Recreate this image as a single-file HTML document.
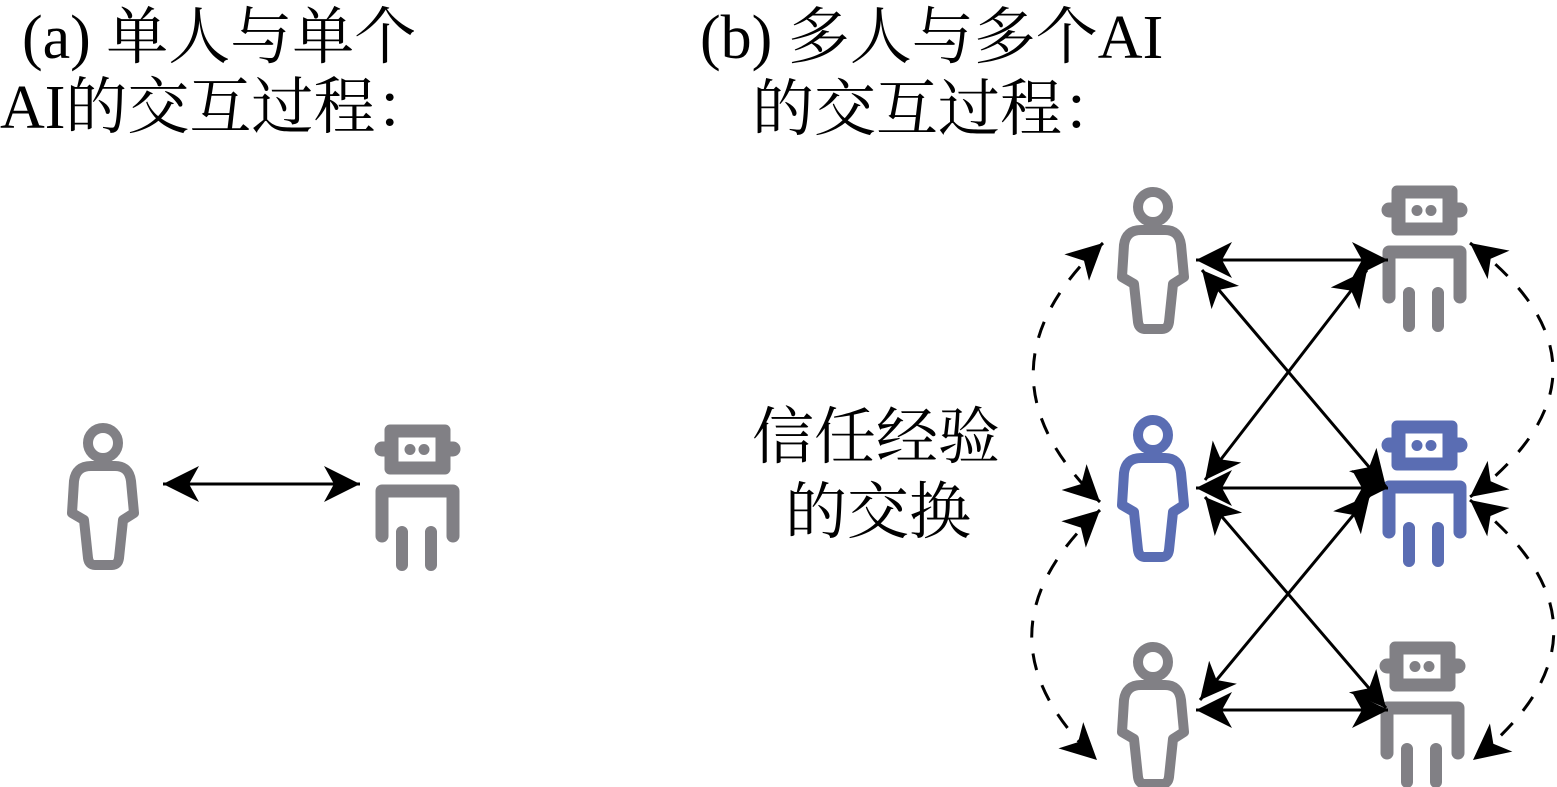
<!DOCTYPE html>
<html><head><meta charset="utf-8"><style>
html,body{margin:0;padding:0;background:#fff;}
svg{display:block;}
text{font-family:"Liberation Serif","Noto Serif CJK SC",serif;font-size:62px;fill:#000;}
</style></head><body>
<svg width="1557" height="787" viewBox="0 0 1557 787" xmlns="http://www.w3.org/2000/svg">
<defs>
<marker id="ah" markerUnits="userSpaceOnUse" markerWidth="42" markerHeight="42" viewBox="-36 -21 42 42" refX="0" refY="0" orient="auto-start-reverse">
<path d="M0,0 L-36,-18 L-26,0 L-36,18 Z" fill="#000"/>
</marker>
<g id="person" fill="none" stroke-width="10" stroke-linejoin="round">
<circle cx="0" cy="0" r="15"/>
<path d="M-12,23 H12 Q26,23 28,38 L31,70 L20,77 L16,115 Q15,122 9,122 H-8 Q-14,122 -15,115 L-19,77 L-31,70 L-29,38 Q-27,23 -12,23 Z"/>
</g>
<g id="robot">
<rect x="-10" y="17" width="85" height="14" rx="7"/>
<rect x="0" y="0" width="65" height="49" rx="5"/>
<rect x="13" y="12" width="38" height="25" fill="#fff"/>
<circle cx="25" cy="24.5" r="5"/>
<circle cx="39" cy="24.5" r="5"/>
<path d="M-3,111 V66 H68 V111" fill="none" stroke-width="13" stroke-linecap="round" stroke-linejoin="round"/>
<path d="M17,107 V140 M46,107 V140" fill="none" stroke-width="12" stroke-linecap="round"/>
</g>
</defs>

<text x="22" y="58">(a) 单人与单个</text>
<text x="0" y="128">AI的交互过程：</text>
<text x="700" y="58">(b) 多人与多个AI</text>
<text x="752" y="130">的交互过程：</text>
<text x="752" y="458">信任经验</text>
<text x="785" y="533">的交换</text>

<use href="#person" x="103" y="443" stroke="#818085"/>
<use href="#robot" x="385" y="425" fill="#818085" stroke="#818085"/>
<line x1="163" y1="484" x2="360" y2="484" stroke="#000" stroke-width="3" marker-start="url(#ah)" marker-end="url(#ah)"/>

<use href="#person" x="1153" y="207" stroke="#818085"/>
<use href="#person" x="1153" y="435" stroke="#5a6db3"/>
<use href="#person" x="1153" y="662" stroke="#818085"/>
<use href="#robot" x="1392" y="186" fill="#818085" stroke="#818085"/>
<use href="#robot" x="1392" y="421" fill="#5a6db3" stroke="#5a6db3"/>
<use href="#robot" x="1390" y="642" fill="#818085" stroke="#818085"/>

<g stroke="#000" stroke-width="3" fill="none">
<line x1="1196" y1="260" x2="1388" y2="260" marker-start="url(#ah)" marker-end="url(#ah)"/>
<line x1="1196" y1="488" x2="1388" y2="488" marker-start="url(#ah)" marker-end="url(#ah)"/>
<line x1="1196" y1="710" x2="1388" y2="710" marker-start="url(#ah)" marker-end="url(#ah)"/>
<line x1="1202" y1="270" x2="1386" y2="487" marker-start="url(#ah)" marker-end="url(#ah)"/>
<line x1="1367" y1="270" x2="1205" y2="480" marker-start="url(#ah)" marker-end="url(#ah)"/>
<line x1="1205" y1="497" x2="1386" y2="708" marker-start="url(#ah)" marker-end="url(#ah)"/>
<line x1="1370" y1="495" x2="1200" y2="700" marker-start="url(#ah)" marker-end="url(#ah)"/>
<g stroke-dasharray="17 16">
<path d="M1103,243 Q965,372 1100,502" marker-start="url(#ah)" marker-end="url(#ah)"/>
<path d="M1100,510 Q965,635 1097,760" marker-start="url(#ah)" marker-end="url(#ah)"/>
<path d="M1470,243 Q1636,370 1470,497" marker-start="url(#ah)" marker-end="url(#ah)"/>
<path d="M1470,500 Q1636,630 1473,760" marker-start="url(#ah)" marker-end="url(#ah)"/>
</g>
</g>
</svg>
</body></html>
